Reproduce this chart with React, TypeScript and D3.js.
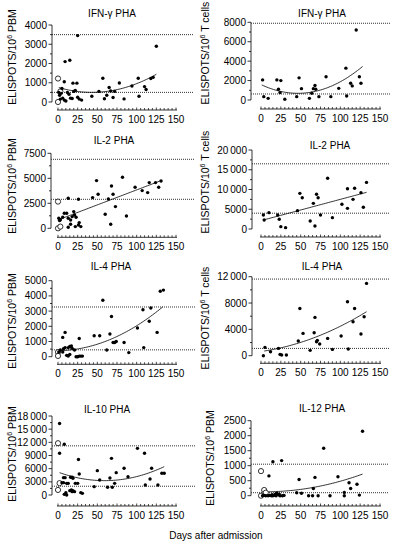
import React from 'react';
import * as d3 from 'd3';

type Pt = [number, number];

// ---------- data ----------
const dayTicks = [0, 25, 50, 75, 100, 125, 150];

const ifnPbmFilled: Pt[] = [
  [25, 3450], [125, 2900], [9, 2100], [15, 2170], [57, 1230], [8, 1050], [19, 980], [24, 980],
  [102, 1230], [94, 830], [118, 1220], [121, 1280], [110, 800], [112, 650], [65, 750], [67, 570],
  [62, 350], [78, 990], [84, 160], [43, 300], [59, 170], [70, 230], [72, 550], [103, 300],
  [1, 500], [2, 350], [3, 150], [4, 450], [5, 700], [6, 200], [8, 100], [10, 50], [12, 500],
  [14, 400], [16, 200], [18, 180], [20, 550], [22, 600], [25, 250], [27, 150], [30, 100], [52, 550],
];
const ifnPbmOpen: Pt[] = [[0, 1220], [0, 0], [3, 550]];
const ifnPbmFit: Pt[] = [[1, 750], [55, 520], [125, 1440]];
const ifnPbmRefs = [3500, 500];
const ifnPbmTicks = [0, 1000, 2000, 3000, 4000];
const ifnPbmTickLabels = ['0', '1000', '2000', '3000', '4000'];

const ifnTFilled: Pt[] = [
  [120, 7200], [2, 2070], [3.5, 345], [9, 170], [20, 2070], [22, 1100], [24, 760], [25, 2000],
  [30, 70], [45, 345], [48, 2280], [51, 1170], [61, 170], [64, 690], [66, 1170], [68, 1500],
  [69, 1100], [73, 345], [82, 2400], [88, 345], [98, 1200], [107, 3280], [108, 410], [113, 1720],
  [115, 1450], [124, 2400], [126, 1720],
];
const ifnTOpen: Pt[] = [];
const ifnTFit: Pt[] = [[1, 1550], [48, 690], [128, 3450]];
const ifnTRefs = [7900, 620];
const ifnTTicks = [0, 2000, 4000, 6000, 8000];
const ifnTTickLabels = ['0', '2000', '4000', '6000', '8000'];

const il2PbmFilled: Pt[] = [
  [13, 3000], [26, 2900], [44, 3070], [49, 4770], [51, 3400], [60, 1400], [64, 2930], [68, 4230],
  [67, 400], [70, 3400], [73, 2170], [82, 5100], [87, 1230], [98, 4100], [107, 3770], [114, 3570],
  [116, 4570], [124, 4570], [128, 4100], [131, 4730],
  [1, 1000], [2, 770], [3, 850], [6, 1100], [8, 1500], [11, 1500], [13, 1000], [16, 830],
  [18, 1170], [20, 1670], [21, 1330], [23, 1100], [22, 170], [13, 100], [16, 400], [26, 330],
  [27, 570], [29, 170],
];
const il2PbmOpen: Pt[] = [[0, 2670], [0, 0], [3, 170]];
const il2PbmFit: Pt[] = [[2, 900], [131, 4770]];
const il2PbmRefs = [6900, 2900];
const il2PbmTicks = [0, 2500, 5000, 7500];
const il2PbmTickLabels = ['0', '2500', '5000', '7500'];

const il2TFilled: Pt[] = [
  [3, 3550], [4, 2280], [10, 4140], [21, 3550], [23, 2450], [25, 590], [31, 340], [46, 4640],
  [49, 9030], [52, 7930], [62, 2030], [66, 6500], [68, 760], [70, 8780], [72, 7930], [75, 3550],
  [84, 12830], [90, 2870], [102, 6250], [109, 10200], [109, 5230], [116, 7510], [118, 10300],
  [126, 9200], [129, 5490], [133, 11800],
];
const il2TOpen: Pt[] = [];
const il2TFit: Pt[] = [[3, 2280], [133, 9280]];
const il2TRefs = [16500, 4000];
const il2TTicks = [0, 5000, 10000, 15000, 20000];
const il2TTickLabels = ['0', '5000', '10\u2009000', '15\u2009000', '20\u2009000'];

const il4PbmFilled: Pt[] = [
  [134, 4380], [130, 4310], [57, 3710], [68, 2640], [108, 3090], [118, 3200], [116, 2330],
  [101, 1890], [126, 1600], [53, 1380], [46, 1380], [66, 1490], [70, 930], [72, 930], [74, 1000],
  [84, 930], [62, 440], [90, 270], [109, 600], [6, 1270], [9, 1600], [27, 1200],
  [1, 310], [3, 440], [6, 310], [7, 530], [9, 600], [13, 600], [15, 670], [17, 710], [18, 550],
  [15, 150], [11, 90], [21, 440], [23, 0], [25, 0], [27, 40], [29, 40], [31, 40], [13, 50],
];
const il4PbmOpen: Pt[] = [[0, 300], [0, 50]];
const il4PbmFit: Pt[] = [[2, 400], [75, 1330], [133, 3270]];
const il4PbmRefs = [3270, 450];
const il4PbmTicks = [0, 1000, 2000, 3000, 4000, 5000];
const il4PbmTickLabels = ['0', '1000', '2000', '3000', '4000', '5000'];

const il4TFilled: Pt[] = [
  [3, 0], [5, 1260], [12, 610], [22, 1110], [24, 200], [26, 100], [32, 100], [47, 2230],
  [49, 7180], [53, 3390], [62, 810], [67, 3490], [68, 5820], [70, 2130], [71, 2330], [74, 1770],
  [84, 2630], [90, 960], [101, 2990], [109, 8200], [110, 1010], [116, 5160], [118, 7180],
  [126, 3290], [130, 5920], [133, 10980],
];
const il4TOpen: Pt[] = [];
const il4TFit: Pt[] = [[4, 710], [50, 2020], [133, 6680]];
const il4TRefs = [11640, 1110];
const il4TTicks = [0, 4000, 8000, 12000];
const il4TTickLabels = ['0', '4000', '8000', '12\u2009000'];

const il10PbmFilled: Pt[] = [
  [2, 16300], [8, 11550], [2, 9500], [26, 8100], [27, 4800],
  [7, 3950], [9, 3950], [5, 2810], [7, 2810], [11, 2660], [13, 2660], [16, 4030], [18, 4030],
  [19, 3800], [8, 150], [11, 0], [10, 530], [15, 990], [17, 1140], [18, 760], [19, 990],
  [21, 760], [22, 2660], [25, 2660], [29, 530], [31, 380],
  [50, 5550], [53, 3420], [46, 1900], [63, 1750], [68, 8350], [66, 3870], [69, 1750], [72, 2660],
  [74, 5090], [84, 6080], [89, 4180], [101, 10630], [110, 9500], [111, 2280], [117, 3650],
  [119, 6080], [127, 2280], [132, 4940], [135, 4940],
];
const il10PbmOpen: Pt[] = [[0, 11800], [2, 2700], [0, 1150]];
const il10PbmFit: Pt[] = [[2, 5090], [59, 3270], [135, 6460]];
const il10PbmRefs = [11200, 2000];
const il10PbmTicks = [0, 3000, 6000, 9000, 12000, 15000, 18000];
const il10PbmTickLabels = ['0', '3000', '6000', '9000', '12\u2009000', '15\u2009000', '18\u2009000'];

const il12PbmFilled: Pt[] = [
  [128, 2150], [79, 1580], [15, 1130], [26, 1170], [10, 660], [48, 540], [68, 610], [97, 630],
  [66, 240], [111, 430], [113, 240], [121, 380], [105, 110], [105, 0], [124, 20], [45, 100],
  [51, 80], [60, 0], [65, 0], [72, 0], [87, 0], [2, 0], [4, 10], [6, 0], [9, 0], [11, 10],
  [13, 0], [15, 0], [17, 10], [18, 50], [20, 80], [22, 30], [23, 50], [24, 0], [27, 0], [29, 10],
  [19, 0], [14, 30],
];
const il12PbmOpen: Pt[] = [[0, 820], [4, 190], [0, 0], [6, 100]];
const il12PbmFit: Pt[] = [[1, 130], [50, 210], [128, 720]];
const il12PbmRefs = [1050, 100];
const il12PbmTicks = [0, 500, 1000, 1500, 2000, 2500];
const il12PbmTickLabels = ['0', '500', '1000', '1500', '2000', '2500'];

// ---------- layout ----------
interface Layout {
  axisX: number; y0: number; yTop: number; xAxisY: number; x0: number; x1: number;
  refX1: number; titleX: number; titleY: number; labelX: number; labelY: number;
}
interface Panel {
  title: string; unit: string; filled: Pt[]; open: Pt[]; fit: Pt[]; refs: number[];
  ticks: number[]; tickLabels: string[]; layout: Layout;
}

const panels: Panel[] = [
  { title: 'IFN-\u03b3 PHA', unit: 'PBM', filled: ifnPbmFilled, open: ifnPbmOpen, fit: ifnPbmFit, refs: ifnPbmRefs,
    ticks: ifnPbmTicks, tickLabels: ifnPbmTickLabels,
    layout: { axisX: 52, y0: 102, yTop: 25, xAxisY: 110, x0: 58, x1: 176, refX1: 194, titleX: 112, titleY: 17, labelX: 16, labelY: 57 } },
  { title: 'IFN-\u03b3 PHA', unit: 'T cells', filled: ifnTFilled, open: ifnTOpen, fit: ifnTFit, refs: ifnTRefs,
    ticks: ifnTTicks, tickLabels: ifnTTickLabels,
    layout: { axisX: 251, y0: 100, yTop: 22.3, xAxisY: 109, x0: 261, x1: 380, refX1: 390, titleX: 322, titleY: 17, labelX: 209, labelY: 53 } },
  { title: 'IL-2 PHA', unit: 'PBM', filled: il2PbmFilled, open: il2PbmOpen, fit: il2PbmFit, refs: il2PbmRefs,
    ticks: il2PbmTicks, tickLabels: il2PbmTickLabels,
    layout: { axisX: 51, y0: 228.3, yTop: 153.3, xAxisY: 237.3, x0: 58, x1: 176, refX1: 195, titleX: 114, titleY: 144, labelX: 16, labelY: 186 } },
  { title: 'IL-2 PHA', unit: 'T cells', filled: il2TFilled, open: il2TOpen, fit: il2TFit, refs: il2TRefs,
    ticks: il2TTicks, tickLabels: il2TTickLabels,
    layout: { axisX: 252, y0: 229, yTop: 150, xAxisY: 237, x0: 261, x1: 380, refX1: 390, titleX: 330, titleY: 149, labelX: 209, labelY: 182 } },
  { title: 'IL-4 PHA', unit: 'PBM', filled: il4PbmFilled, open: il4PbmOpen, fit: il4PbmFit, refs: il4PbmRefs,
    ticks: il4PbmTicks, tickLabels: il4PbmTickLabels,
    layout: { axisX: 52, y0: 356.7, yTop: 280.7, xAxisY: 364.3, x0: 58, x1: 176, refX1: 195, titleX: 111, titleY: 270, labelX: 16, labelY: 321 } },
  { title: 'IL-4 PHA', unit: 'T cells', filled: il4TFilled, open: il4TOpen, fit: il4TFit, refs: il4TRefs,
    ticks: il4TTicks, tickLabels: il4TTickLabels,
    layout: { axisX: 252, y0: 355.7, yTop: 276.7, xAxisY: 363.3, x0: 261, x1: 380, refX1: 389, titleX: 322, titleY: 270, labelX: 209, labelY: 318 } },
  { title: 'IL-10 PHA', unit: 'PBM', filled: il10PbmFilled, open: il10PbmOpen, fit: il10PbmFit, refs: il10PbmRefs,
    ticks: il10PbmTicks, tickLabels: il10PbmTickLabels,
    layout: { axisX: 52, y0: 495, yTop: 416, xAxisY: 506, x0: 58, x1: 176, refX1: 195, titleX: 107, titleY: 413, labelX: 16, labelY: 454 } },
  { title: 'IL-12 PHA', unit: 'PBM', filled: il12PbmFilled, open: il12PbmOpen, fit: il12PbmFit, refs: il12PbmRefs,
    ticks: il12PbmTicks, tickLabels: il12PbmTickLabels,
    layout: { axisX: 251, y0: 495.7, yTop: 420.7, xAxisY: 506, x0: 261, x1: 380, refX1: 389, titleX: 322, titleY: 412, labelX: 214, labelY: 458 } },
];

const FONT = '"Liberation Sans", Arial, Helvetica, sans-serif';

function fitFn(pts: Pt[]) {
  return (x: number) =>
    pts.reduce((s, [xi, yi], i) => {
      let t = yi;
      pts.forEach(([xj], j) => { if (j !== i) t *= (x - xj) / (xi - xj); });
      return s + t;
    }, 0);
}

function PanelView({ p }: { p: Panel }) {
  const L = p.layout;
  const yMax = p.ticks[p.ticks.length - 1];
  const x = d3.scaleLinear().domain([0, 150]).range([L.x0, L.x1]);
  const y = d3.scaleLinear().domain([0, yMax]).range([L.y0, L.yTop]);
  const step = p.ticks[1] - p.ticks[0];
  const minor = d3.range(step / 2, yMax, step);
  const xMinor = d3.range(0, 151, 5);
  const f = fitFn(p.fit);
  const x0 = p.fit[0][0];
  const x1 = p.fit[p.fit.length - 1][0];
  const samples = d3.range(0, 61).map((i) => x0 + ((x1 - x0) * i) / 60);
  const line = d3.line<number>().x((d) => x(d)).y((d) => y(f(d)));
  return (
    <g fontFamily={FONT} fill="#000">
      <text x={L.titleX} y={L.titleY} textAnchor="middle" fontSize={10}>{p.title}</text>
      <text transform={`translate(${L.labelX},${L.labelY}) rotate(-90)`} textAnchor="middle" fontSize={10.5}>
        ELISPOTS/10<tspan dy={-4} fontSize={7}>6</tspan><tspan dy={4}> {p.unit}</tspan>
      </text>
      {/* y axis */}
      <line x1={L.axisX} x2={L.axisX} y1={y(0)} y2={y(yMax)} stroke="#000" strokeWidth={0.8} />
      {p.ticks.map((t, i) => (
        <g key={'t' + t}>
          <line x1={L.axisX - 3.5} x2={L.axisX} y1={y(t)} y2={y(t)} stroke="#000" strokeWidth={0.8} />
          <text x={L.axisX - 5} y={y(t)} dy="0.35em" textAnchor="end" fontSize={10}>{p.tickLabels[i]}</text>
        </g>
      ))}
      {minor.map((t) => (
        <line key={'m' + t} x1={L.axisX - 2} x2={L.axisX} y1={y(t)} y2={y(t)} stroke="#000" strokeWidth={0.8} />
      ))}
      {/* reference lines */}
      {p.refs.map((r) => (
        <line key={'r' + r} x1={L.axisX} x2={L.refX1} y1={y(r)} y2={y(r)} stroke="#333" strokeWidth={1} strokeDasharray="1 1" />
      ))}
      {/* x axis */}
      <line x1={x(0) - 1} x2={x(150) + 1} y1={L.xAxisY} y2={L.xAxisY} stroke="#000" strokeWidth={0.8} />
      {xMinor.map((t) => (
        <line key={'x' + t} x1={x(t)} x2={x(t)} y1={L.xAxisY} y2={L.xAxisY - (t % 25 === 0 ? 2.5 : 2)} stroke="#000" strokeWidth={0.7} />
      ))}
      {dayTicks.map((t) => (
        <text key={'xl' + t} x={x(t)} y={L.xAxisY + 13} textAnchor="middle" fontSize={10}>{t}</text>
      ))}
      {/* fit */}
      <path d={line(samples) || ''} fill="none" stroke="#000" strokeWidth={0.8} />
      {/* points */}
      {p.open.map(([dx, dy], i) => (
        <circle key={'o' + i} cx={x(dx)} cy={y(dy)} r={2.6} fill="#fff" stroke="#000" strokeWidth={0.8} />
      ))}
      {p.filled.map(([dx, dy], i) => (
        <circle key={'f' + i} cx={x(dx)} cy={y(dy)} r={1.7} fill="#000" />
      ))}
    </g>
  );
}

export default function App() {
  return (
    <div style={{ position: 'absolute', left: 0, top: 0 }}>
      <svg width={401} height={541} style={{ display: 'block', background: '#fff' }}>
        {panels.map((p, i) => <PanelView key={i} p={p} />)}
        <text x={216} y={539} textAnchor="middle" fontSize={10} fontFamily={FONT}>Days after admission</text>
      </svg>
    </div>
  );
}
